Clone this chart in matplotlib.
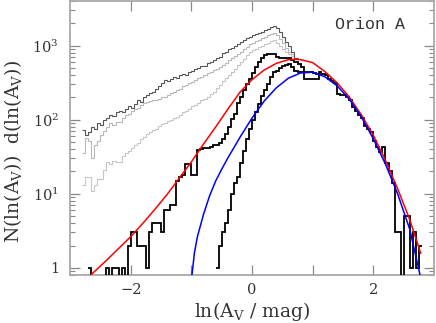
import numpy as np
import matplotlib
matplotlib.use("Agg")
import matplotlib.pyplot as plt
from matplotlib.ticker import FixedLocator, FuncFormatter, LogLocator, NullFormatter

plt.rcParams['font.family'] = ['DejaVu Serif']
plt.rcParams['mathtext.fontset'] = 'dejavuserif'

# ---- data ----
bin_width = 0.05
bin_origin = -3.0

# dark gray histogram (starts at bin 4)
d1_start = 4
d1_counts = [72, 63, 68, 79, 76, 91, 85, 100, 105, 115, 112, 126, 132, 126, 141, 151,
             145, 162, 182, 174, 200, 214, 229, 240, 263, 282, 316, 339, 331, 355, 372,
             363, 398, 417, 407, 437, 457, 479, 501, 525, 537, 575, 603, 631, 676, 708,
             794, 832, 891, 933, 1000, 1047, 1122, 1175, 1259, 1318, 1380, 1413, 1479,
             1549, 1622, 1698, 1778, 1862, 1740, 1510, 1318, 1122, 977, 830, 690]

# light gray histogram 1 (starts at bin 4)
l1_start = 4
l1_counts = [36, 56, 52, 30, 46, 52, 63, 71, 79, 89, 85, 93, 93, 105, 115, 120, 132, 141,
             145, 158, 166, 174, 178, 182, 182, 191, 200, 204, 214, 229, 240, 251, 263,
             282, 295, 309, 324, 347, 363, 380, 407, 427, 447, 468, 490, 513, 550, 589,
             631, 676, 724, 776, 832, 891, 955, 1047, 1096, 1148, 1202, 1259, 1318, 1380,
             1445, 1479, 1380, 1230, 1072, 933, 832, 759, 690]

# light gray histogram 2 (starts at bin 4)
l2_start = 4
l2_counts = [13, 17, 17, 11, 13, 16, 16, 21, 27, 25, 28, 27, 27, 32, 35, 38, 42, 46, 48,
             54, 59, 65, 69, 72, 76, 81, 87, 91, 95, 98, 105, 110, 117, 126, 132, 141, 151,
             158, 170, 182, 191, 204, 219, 240, 269, 295, 331, 363, 398, 447, 490, 550,
             603, 661, 741, 813, 871, 912, 955, 1000, 1047, 1096, 1148, 1175, 1096, 1000,
             891, 813, 759, 724, 690]

# thick black histogram, full sample (starts at bin 6)
b1_start = 6
b1_counts = [1, 0, 0, 0, 0, 0, 1, 0, 1, 1, 0, 1, 0, 2, 3, 3, 2, 2, 2, 1, 3, 4, 4, 4, 3, 6,
             6, 7, 7, 15, 17, 18, 25, 25, 18, 18, 39, 40, 41, 42, 43, 45, 46, 48, 55, 65,
             79, 102, 120, 166, 204, 250, 300, 355, 430, 510, 600, 680, 740, 760, 776, 760,
             700, 690, 690, 690, 690, 640, 600, 560, 520, 355, 355, 355, 355, 355, 436]

# thick black histogram, second sample (starts at bin 48)
b2_start = 48
b2_counts = [1, 2, 3, 4, 6, 10, 14, 17, 26, 38, 55, 75, 100, 125, 165, 210, 250, 300, 372,
             440, 457, 500, 537, 550, 562, 520, 457, 436, 436, 436, 436, 440, 430, 420, 417,
             417, 400, 355, 330, 309, 224, 215, 214, 204, 182, 150, 130, 115, 105, 83, 75,
             68, 52, 43, 37, 43, 26, 20, 14, 3, 3, 0, 5, 5, 1, 3, 1, 2]

# red fit curve
red_x = [-2.65, -2.4, -2.2, -2.0, -1.8, -1.6, -1.4, -1.2, -1.0, -0.8, -0.6, -0.4, -0.2,
         0.0, 0.2, 0.4, 0.6, 0.7, 0.8, 1.0, 1.2, 1.4, 1.6, 1.8, 2.0, 2.2, 2.4, 2.6, 2.78]
red_y = [0.81, 1.26, 1.82, 2.63, 3.98, 6.17, 9.77, 16.2, 26.9, 46.8, 79.4, 138, 234,
         347, 468, 575, 646, 653, 646, 589, 447, 316, 204, 117, 61.7, 28.2, 11.7, 4.47, 1.58]

# blue fit curve
blue_x = [-0.99, -0.97, -0.95, -0.9, -0.8, -0.7, -0.6, -0.5, -0.4, -0.2, 0.0, 0.2, 0.4,
          0.6, 0.8, 1.0, 1.2, 1.4, 1.6, 1.8, 2.0, 2.2, 2.4, 2.6, 2.77]
blue_y = [0.8, 1.12, 1.58, 2.63, 5.25, 9.33, 14.8, 21.4, 30.2, 57.5, 105, 178, 269,
          363, 427, 437, 380, 288, 191, 110, 55, 25.1, 10, 3.31, 0.8]

x_ticks = [-2, -1, 0, 1, 2]
x_labeled = [-2, 0, 2]
y_ticks = [1, 10, 100, 1000]
y_ticklabels = ['1', r'$10^{1}$', r'$10^{2}$', r'$10^{3}$']
label_text = 'Orion A'


def edges_for(start, n):
    return bin_origin + bin_width * np.arange(start, start + n + 1)


def safe(c):
    c = np.asarray(c, dtype=float)
    return np.where(c > 0, c, 1e-3)


fig = plt.figure(figsize=(4.36, 3.23), dpi=100)
ax = fig.add_axes([70 / 436, 48 / 323, 364 / 436, 274 / 323])
ax.set_yscale('log')

ax.stairs(safe(l2_counts), edges_for(l2_start, len(l2_counts)), baseline=None,
          color='#c6c6c6', lw=0.8, zorder=2)
ax.stairs(safe(l1_counts), edges_for(l1_start, len(l1_counts)), baseline=None,
          color='#b8b8b8', lw=0.8, zorder=2)
ax.stairs(safe(d1_counts), edges_for(d1_start, len(d1_counts)), baseline=None,
          color='#555555', lw=0.8, zorder=3)
ax.stairs(safe(b1_counts), edges_for(b1_start, len(b1_counts)), baseline=None,
          color='black', lw=1.3, zorder=4)
ax.stairs(safe(b2_counts), edges_for(b2_start, len(b2_counts)), baseline=None,
          color='black', lw=1.3, zorder=4)

ax.plot(red_x, red_y, color='#ff0000', lw=1.1, zorder=5)
ax.plot(blue_x, blue_y, color='#0000ff', lw=1.1, zorder=5)

ax.set_xlim(-3, 3)
ax.set_ylim(0.8, 4000)

ax.xaxis.set_major_locator(FixedLocator(x_ticks))
ax.xaxis.set_major_formatter(FuncFormatter(
    lambda v, p: ('\u2212%d' % abs(v) if v < 0 else '%d' % v) if int(round(v)) in x_labeled else ''))
ax.yaxis.set_major_locator(FixedLocator(y_ticks))
ax.yaxis.set_major_formatter(FuncFormatter(lambda v, p: y_ticklabels[y_ticks.index(int(round(v)))]
                                            if int(round(v)) in y_ticks else ''))
ax.yaxis.set_minor_locator(LogLocator(base=10, subs=np.arange(2, 10)))
ax.yaxis.set_minor_formatter(NullFormatter())

spine_c = '#a8a8a8'
for s in ax.spines.values():
    s.set_color(spine_c)
    s.set_linewidth(1.3)
ax.tick_params(which='both', direction='in', top=True, right=True, color='#888888',
               labelcolor='#333333', labelsize=10.5)
ax.tick_params(which='major', length=7, width=0.9, pad=8)
ax.tick_params(which='minor', length=3.5, width=0.8)
ax.tick_params(axis='x', which='major', pad=6)

ax.set_xlabel(r'ln(A$_\mathrm{V}$ / mag)', fontsize=13.5, color='#333333', labelpad=2)
ax.set_ylabel(r'N(ln(A$_\mathrm{V}$))  d(ln(A$_\mathrm{V}$))', fontsize=13.5, color='#333333')
ax.yaxis.set_label_coords(-0.125, 0.45)

ax.text(0.727, 0.915, label_text, transform=ax.transAxes, fontsize=12,
        family=['Liberation Mono', 'DejaVu Sans Mono'], color='#333333', va='center')

fig.savefig('out.png', dpi=100)
